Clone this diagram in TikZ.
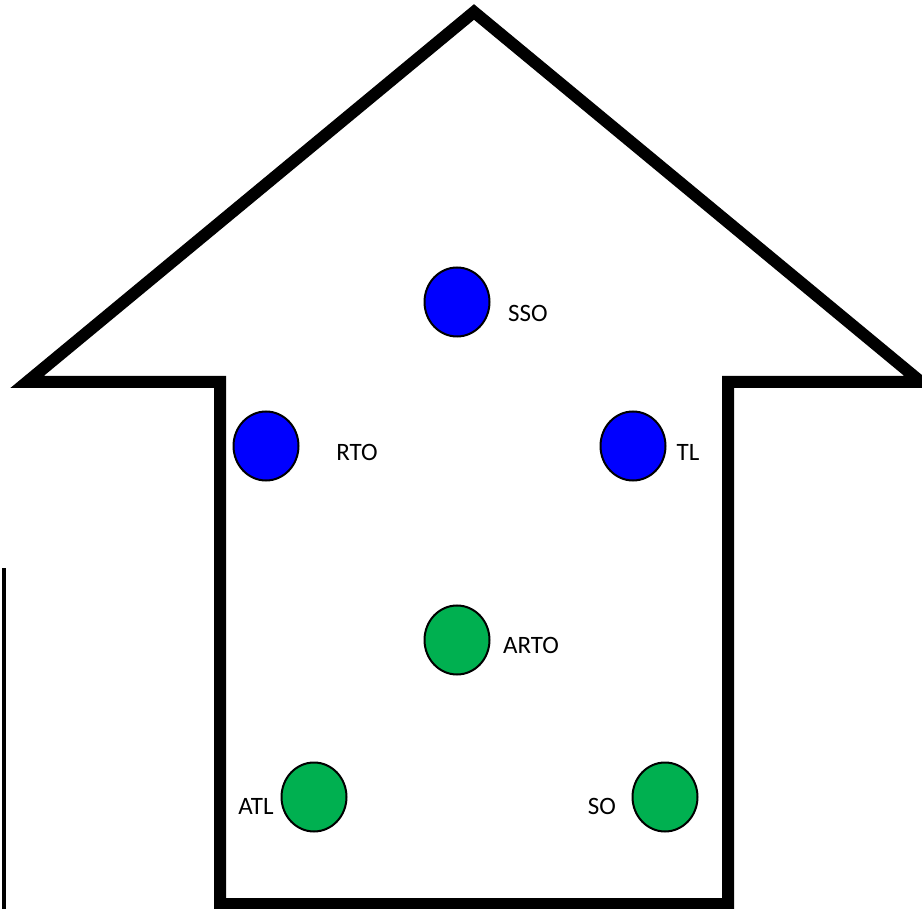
\documentclass[tikz,border=0pt]{standalone}
\usepackage{fontspec}
\setmainfont{Carlito}
\usetikzlibrary{shapes.geometric}
\definecolor{azulpunto}{RGB}{0,0,255}
\definecolor{verdepunto}{RGB}{0,176,80}
\tikzset{
  punto/.style={ellipse, draw=black, line width=2pt, minimum width=65pt, minimum height=69pt, inner sep=0pt},
  etiqueta/.style={font=\fontsize{25}{30}\selectfont, inner sep=0pt}
}
\begin{document}
\begin{tikzpicture}[x=1pt, y=-1pt]
    \useasboundingbox (0,0) rectangle (922,909);
    % La flecha grande y la raya del borde izquierdo.
    \draw[line width=12pt, line join=miter] (27,382) -- (474,12) -- (921,382) -- (728,382)
        -- (728,904) -- (220,904) -- (220,382) -- cycle;
    \draw[line width=4pt] (3.5,568) -- (3.5,909);
    \node[punto, fill=azulpunto] (sso) at (457,302) {};
    \node[punto, fill=azulpunto] (rto) at (266,446) {};
    \node[punto, fill=azulpunto] (tl) at (633,446) {};
    \node[punto, fill=verdepunto] (arto) at (457,640) {};
    \node[punto, fill=verdepunto] (atl) at (314,797) {};
    \node[punto, fill=verdepunto] (so) at (665,797) {};
    \node[etiqueta] (lsso) at (528,313) {SSO};
    \node[etiqueta] (lrto) at (357,452) {RTO};
    \node[etiqueta] (ltl) at (688,452) {TL};
    \node[etiqueta] (larto) at (531,645) {ARTO};
    \node[etiqueta] (latl) at (256,806) {ATL};
    \node[etiqueta] (lso) at (602,806) {SO};
\end{tikzpicture}
\end{document}
